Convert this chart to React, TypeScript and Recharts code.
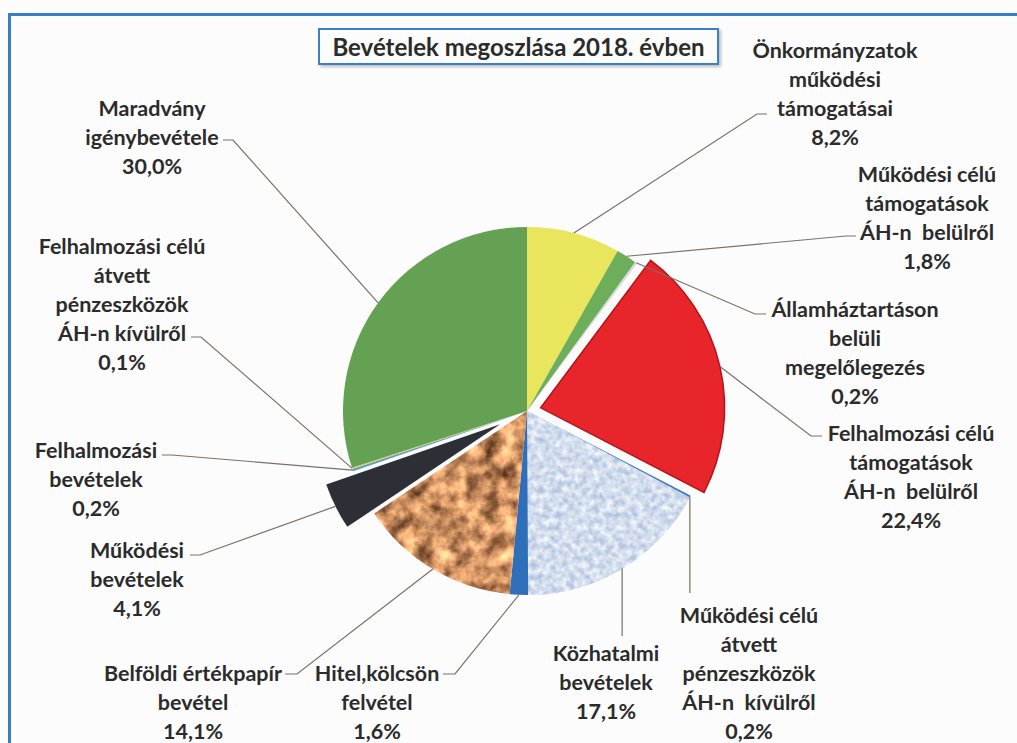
import { Cell, Pie, PieChart } from "recharts"

// slices clockwise from 12 o'clock
const categories = [
  "Önkormányzatok működési támogatásai",
  "Működési célú támogatások ÁH-n belülről",
  "Államháztartáson belüli megelőlegezés",
  "Felhalmozási célú támogatások ÁH-n belülről",
  "Működési célú átvett pénzeszközök ÁH-n kívülről",
  "Közhatalmi bevételek",
  "Hitel,kölcsön felvétel",
  "Belföldi értékpapír bevétel",
  "Működési bevételek",
  "Felhalmozási bevételek",
  "Felhalmozási célú átvett pénzeszközök ÁH-n kívülről",
  "Maradvány igénybevétele",
]
const shares = [8.2, 1.8, 0.2, 22.4, 0.2, 17.1, 1.6, 14.1, 4.1, 0.2, 0.1, 30.0]

// label text as it is wrapped in the picture (the percentage is added from shares)
const labelText = [
  ["Önkormányzatok", "működési", "támogatásai"],
  ["Működési célú", "támogatások", "ÁH-n  belülről"],
  ["Államháztartáson", "belüli", "megelőlegezés"],
  ["Felhalmozási célú", "támogatások", "ÁH-n  belülről"],
  ["Működési célú", "átvett", "pénzeszközök", "ÁH-n  kívülről"],
  ["Közhatalmi", "bevételek"],
  ["Hitel,kölcsön", "felvétel"],
  ["Belföldi értékpapír", "bevétel"],
  ["Működési", "bevételek"],
  ["Felhalmozási", "bevételek"],
  ["Felhalmozási célú", "átvett", "pénzeszközök", "ÁH-n kívülről"],
  ["Maradvány", "igénybevétele"],
]

const colors = [
  "#e9e55c", "#6dae5b", "#d9d9d9", "#e8252b", "#3b7cc4", "#cfdcec",
  "#2f6eb8", "#a8704a", "#2c3036", "#5b9bd5", "#e0cf4a", "#64a152",
]
const explode: Record<number, number> = { 3: 14, 8: 30 }

// label placement: text centre x, first line centre y, leader elbow and stub end
const layout = [
  { tx: 835, ty: 50, ex: 757, ey: 114, sx: 767 },
  { tx: 927, ty: 174, ex: 846, ey: 236, sx: 856 },
  { tx: 855, ty: 309, ex: 755, ey: 314, sx: 766 },
  { tx: 911, ty: 433, ex: 811, ey: 436, sx: 822 },
  { tx: 749, ty: 615, ey: 593 },
  { tx: 606, ty: 653, ey: 636 },
  { tx: 377, ty: 673, ex: 455, ey: 674, sx: 443 },
  { tx: 193, ty: 673, ex: 297, ey: 674, sx: 285 },
  { tx: 137, ty: 550, ex: 200, ey: 555, sx: 190 },
  { tx: 96, ty: 450, ex: 172, ey: 455, sx: 162 },
  { tx: 122, ty: 246, ex: 201, ey: 337, sx: 191 },
  { tx: 152, ty: 108, ex: 233, ey: 140, sx: 223 },
]

const data = categories.map((name, i) => ({ name, value: shares[i] }))
const total = shares.reduce((a, b) => a + b, 0)
const RAD = Math.PI / 180
const LINE_H = 29
const FONT = "Lato, 'Open Sans', sans-serif"

function offsetFor(i: number) {
  const off = explode[i] || 0
  if (!off) return undefined
  const before = shares.slice(0, i).reduce((a, b) => a + b, 0)
  const theta = ((before + shares[i] / 2) / total) * 360 * RAD
  return `translate(${off * Math.sin(theta)},${-off * Math.cos(theta)})`
}

function renderLabel(props: any) {
  const { cx, cy, midAngle, outerRadius, index } = props
  const L = layout[index]
  const r = outerRadius + (explode[index] || 0)
  const px = cx + r * Math.cos(-midAngle * RAD)
  const py = cy + r * Math.sin(-midAngle * RAD)
  const points =
    L.ex === undefined ? `${px},${py} ${px},${L.ey}` : `${px},${py} ${L.ex},${L.ey} ${L.sx},${L.ey}`
  const lines = [...labelText[index], `${shares[index].toFixed(1).replace(".", ",")}%`]
  return (
    <g key={`lbl-${index}`}>
      <polyline points={points} fill="none" stroke="#7d6f66" strokeWidth={1.2} />
      {lines.map((t, k) => (
        <text
          key={k}
          x={L.tx}
          y={L.ty + k * LINE_H}
          textAnchor="middle"
          dominantBaseline="central"
          fontFamily={FONT}
          fontWeight={700}
          fontSize={21.5}
          fill="#2b2b2b"
          style={{ whiteSpace: "pre" }}
        >
          {t}
        </text>
      ))}
    </g>
  )
}

export default function App() {
  return (
    <div style={{ position: "absolute", left: 0, top: 0, width: 1017, height: 743, background: "#fcfcfc", overflow: "hidden" }}>
      <div
        style={{
          position: "absolute",
          left: 8,
          top: 13,
          width: 1030,
          height: 760,
          border: "3px solid #3580c6",
          boxSizing: "border-box",
        }}
      />
      <PieChart
        width={1017}
        height={743}
        margin={{ top: 0, right: 0, bottom: 0, left: 0 }}
        style={{ position: "absolute", left: 0, top: 0 }}
      >
        <defs>
          <filter id="rockFx" x="0" y="0" width="100%" height="100%" colorInterpolationFilters="sRGB">
            <feTurbulence type="fractalNoise" baseFrequency="0.06" numOctaves={4} seed={4} result="n" />
            <feColorMatrix
              in="n"
              type="matrix"
              values="1.3 0 0 0 0.15  1.05 0 0 0 0.04  0.8 0 0 0 -0.02  0 0 0 0 1"
            />
            <feComposite in2="SourceGraphic" operator="in" />
          </filter>
          <filter id="speckFx" x="0" y="0" width="100%" height="100%" colorInterpolationFilters="sRGB">
            <feTurbulence type="fractalNoise" baseFrequency="0.16" numOctaves={2} seed={7} result="n" />
            <feColorMatrix
              in="n"
              type="matrix"
              values="0.45 0 0 0 0.6  0.35 0 0 0 0.69  0.2 0 0 0 0.83  0 0 0 0 1"
            />
            <feComposite in2="SourceGraphic" operator="in" />
          </filter>
        </defs>
        <Pie
          data={data}
          dataKey="value"
          nameKey="name"
          cx={527}
          cy={411}
          outerRadius={184}
          startAngle={90}
          endAngle={-270}
          stroke="none"
          label={renderLabel}
          labelLine={false}
          isAnimationActive={false}
        >
          {data.map((d, i) => (
            <Cell
              key={d.name}
              fill={colors[i]}
              filter={i === 5 ? "url(#speckFx)" : i === 7 ? "url(#rockFx)" : undefined}
              stroke={i === 3 ? "#b3141b" : i === 5 ? "#5b8fca" : "none"}
              strokeWidth={i === 3 ? 1.5 : 1}
              transform={offsetFor(i)}
            />
          ))}
        </Pie>
      </PieChart>
      <div
        style={{
          position: "absolute",
          left: 318,
          top: 28,
          width: 401,
          height: 37,
          boxSizing: "border-box",
          border: "2px solid #3a80c4",
          boxShadow: "2px 2px 3px rgba(0,0,0,0.25)",
          background: "#fcfcfc",
          display: "flex",
          alignItems: "center",
          justifyContent: "center",
          fontFamily: FONT,
          fontWeight: 700,
          fontSize: 24,
          color: "#2b2b2b",
          whiteSpace: "nowrap",
        }}
      >
        Bevételek megoszlása 2018. évben
      </div>
    </div>
  )
}
